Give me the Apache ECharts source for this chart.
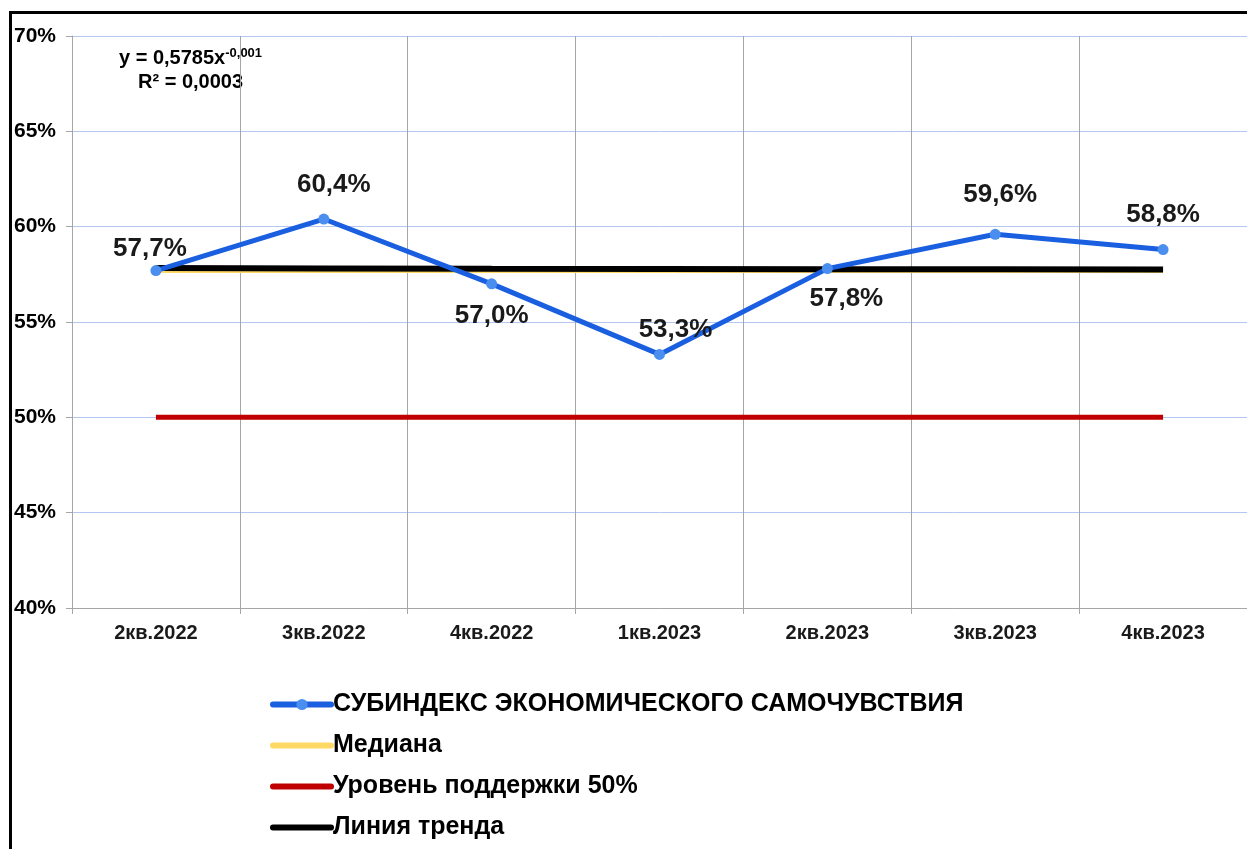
<!DOCTYPE html>
<html>
<head>
<meta charset="utf-8">
<script src="https://cdn.jsdelivr.net/npm/echarts@6/dist/echarts.min.js"></script>
<style>
html,body{margin:0;padding:0;background:#fff;}
#main{width:1247px;height:849px;}
</style>
</head>
<body>
<div id="main"></div>
<script>
var categories = ['2кв.2022', '3кв.2022', '4кв.2022', '1кв.2023', '2кв.2023', '3кв.2023', '4кв.2023'];
var indexValues = [57.7, 60.4, 57.0, 53.3, 57.8, 59.6, 58.8];
var medianValues = [57.7, 57.7, 57.7, 57.7, 57.7, 57.7, 57.7];
var supportValues = [50, 50, 50, 50, 50, 50, 50];
var trendValues = [57.83, 57.81, 57.79, 57.78, 57.77, 57.77, 57.76];
var seriesNames = ['СУБИНДЕКС ЭКОНОМИЧЕСКОГО САМОЧУВСТВИЯ', 'Медиана', 'Уровень поддержки 50%', 'Линия тренда'];

var font = 'Liberation Sans, Arial, sans-serif';
var myChart = echarts.init(document.getElementById('main'));

function fmt(v) {
    return v.toFixed(1).replace('.', ',') + '%';
}

// label placement per point, tuned to the reference
var labelOpts = [
    {position: 'top', offset: [-6, 0], distance: 3},
    {position: 'top', offset: [10, 0], distance: 16},
    {position: 'bottom', distance: 13},
    {position: 'top', offset: [16, 0], distance: 6},
    {position: 'bottom', offset: [19, 0], distance: 12},
    {position: 'top', offset: [5, 0], distance: 21},
    {position: 'top', offset: [0, 0], distance: 16}
];

var indexData = indexValues.map(function (v, i) {
    return {value: v, label: labelOpts[i]};
});

var option = {
    animation: false,
    backgroundColor: '#fff',
    textStyle: {fontFamily: font},
    grid: {left: 72, top: 36, right: -1, bottom: 241},
    xAxis: {
        type: 'category',
        data: categories,
        boundaryGap: true,
        axisLine: {lineStyle: {color: '#a6a6a6', width: 1}},
        axisTick: {show: true, length: 6, lineStyle: {color: '#a6a6a6'}},
        axisLabel: {color: '#1a1a1a', fontWeight: 'bold', fontSize: 20, margin: 15, fontFamily: font},
        splitLine: {show: true, lineStyle: {color: '#a6a6a6', width: 1}}
    },
    yAxis: {
        type: 'value',
        min: 40, max: 70, interval: 5,
        axisLine: {show: true, lineStyle: {color: '#a6a6a6'}},
        axisTick: {show: true, length: 6, lineStyle: {color: '#a6a6a6'}},
        axisLabel: {
            color: '#000', fontWeight: 'bold', fontSize: 21, margin: 16, fontFamily: font,
            formatter: function (v) { return v + '%'; }
        },
        splitLine: {show: true, lineStyle: {color: '#b4c7f0', width: 1}}
    },
    legend: {
        orient: 'vertical',
        left: 270,
        top: 692,
        padding: 0,
        itemGap: 16,
        itemWidth: 58,
        itemHeight: 14,
        lineStyle: {width: 6, cap: 'round'},
        textStyle: {fontSize: 25, fontWeight: 'bold', color: '#000', fontFamily: font, padding: [0, 0, 0, -3]},
        data: [
            {name: seriesNames[0]},
            {name: seriesNames[1], itemStyle: {opacity: 0}},
            {name: seriesNames[2], itemStyle: {opacity: 0}},
            {name: seriesNames[3], itemStyle: {opacity: 0}}
        ]
    },
    series: [
        {
            name: seriesNames[1],
            type: 'line',
            data: medianValues,
            symbol: 'none',
            lineStyle: {color: '#ffd966', width: 5},
            itemStyle: {color: '#ffd966'},
            z: 2
        },
        {
            name: seriesNames[2],
            type: 'line',
            data: supportValues,
            symbol: 'none',
            lineStyle: {color: '#c00000', width: 5},
            itemStyle: {color: '#c00000'},
            z: 2
        },
        {
            name: seriesNames[3],
            type: 'line',
            data: trendValues,
            symbol: 'none',
            lineStyle: {color: '#000', width: 6},
            itemStyle: {color: '#000'},
            z: 3
        },
        {
            name: seriesNames[0],
            type: 'line',
            data: indexData,
            symbol: 'circle',
            symbolSize: 11,
            lineStyle: {color: '#1a5fe0', width: 5},
            itemStyle: {color: '#4a8ef0'},
            label: {
                show: true,
                fontSize: 26,
                fontWeight: 'bold',
                color: '#1a1a1a',
                fontFamily: font,
                formatter: function (p) { return fmt(p.value); }
            },
            z: 4
        }
    ],
    graphic: [
        {
            type: 'rect',
            left: 8, top: 10,
            shape: {width: 1260, height: 860},
            style: {fill: 'none', stroke: '#000', lineWidth: 3},
            silent: true
        },
        {
            type: 'text',
            left: 119, top: 47,
            style: {
                text: '{a|y = 0,5785x}{s|-0,001}',
                rich: {
                    a: {fontSize: 20, fontWeight: 'bold', fontFamily: font, fill: '#000'},
                    s: {fontSize: 13, fontWeight: 'bold', fontFamily: font, fill: '#000', verticalAlign: 'top', padding: [0, 0, 9, 0]}
                }
            }
        },
        {
            type: 'text',
            left: 138, top: 72,
            style: {text: 'R² = 0,0003', font: 'bold 20px ' + font, fill: '#000'}
        }
    ]
};

myChart.setOption(option);
</script>
</body>
</html>
